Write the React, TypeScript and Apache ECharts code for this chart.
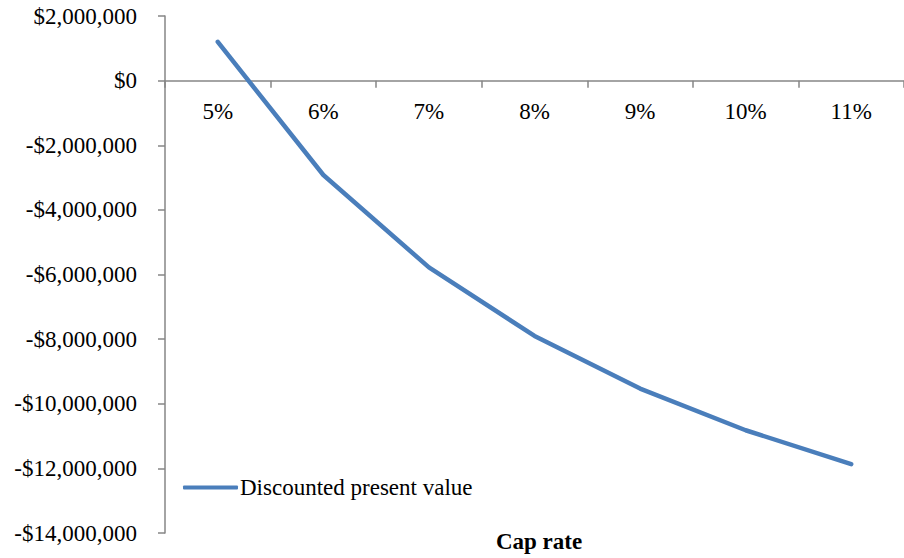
import React, { useEffect, useRef } from "react";
import * as echarts from "echarts";

const categories = ["5%", "6%", "7%", "8%", "9%", "10%", "11%"];
const discountedPV = [1200000, -2920000, -5780000, -7900000, -9530000, -10820000, -11870000];
const seriesName = "Discounted present value";
const xAxisTitle = "Cap rate";
const yMin = -14000000;
const yMax = 2000000;
const yStep = 2000000;

const FONT = "'Liberation Serif', 'Times New Roman', serif";

const W = 904;
const H = 558;
const GRID_TOP = 16;
const GRID_BOTTOM = 25;
const GRID_LEFT = 165;
const GRID_RIGHT = -10;

function fmt(v: number): string {
  const abs = Math.abs(v);
  const s = "$" + abs.toLocaleString("en-US");
  return v < 0 ? "-" + s : s;
}

export default function App() {
  const ref = useRef<HTMLDivElement>(null);
  useEffect(() => {
    if (!ref.current) return;
    const chart = echarts.init(ref.current, null, { renderer: "svg" });
    const gridH = H - GRID_TOP - GRID_BOTTOM;
    const zeroY = GRID_TOP + gridH * (yMax / (yMax - yMin));
    const bottomY = H - GRID_BOTTOM;
    chart.setOption({
      animation: false,
      backgroundColor: "#ffffff",
      textStyle: { fontFamily: FONT },
      grid: { left: GRID_LEFT, right: GRID_RIGHT, top: GRID_TOP, bottom: GRID_BOTTOM, containLabel: false },
      title: {
        text: xAxisTitle,
        left: 539,
        textAlign: "center",
        top: 530,
        padding: 0,
        textStyle: { fontFamily: FONT, fontSize: 23, fontWeight: "bold", color: "#000" },
      },
      legend: {
        left: 183,
        top: 476,
        itemWidth: 55,
        itemHeight: 4,
        itemGap: 0,
        padding: 0,
        textStyle: { fontFamily: FONT, fontSize: 23, color: "#000", padding: [0, 0, 0, -3] },
        data: [{ name: seriesName, icon: "roundRect" }],
      },
      xAxis: {
        type: "category",
        data: categories,
        boundaryGap: true,
        position: "bottom",
        offset: -(bottomY - zeroY),
        axisLine: { onZero: false, lineStyle: { color: "#868686", width: 1.5 } },
        axisTick: { show: true, inside: false, length: 7, lineStyle: { color: "#868686", width: 1.5 } },
        axisLabel: { fontFamily: FONT, fontSize: 23, fontWeight: "normal", color: "#000", margin: 19 },
        splitLine: { show: false },
      },
      yAxis: {
        type: "value",
        min: yMin,
        max: yMax,
        interval: yStep,
        axisLine: { show: true, lineStyle: { color: "#868686", width: 1.5 } },
        axisTick: { show: true, length: 7, lineStyle: { color: "#868686", width: 1.5 } },
        axisLabel: {
          fontFamily: FONT,
          fontSize: 23,
          fontWeight: "normal",
          color: "#000",
          margin: 28,
          formatter: (v: number) => fmt(v),
        },
        splitLine: { show: false },
      },
      series: [
        {
          name: seriesName,
          type: "line",
          data: discountedPV,
          symbol: "none",
          lineStyle: { color: "#4a7ebb", width: 4.5, cap: "round", join: "round" },
          itemStyle: { color: "#4a7ebb" },
        },
      ],
    });
    return () => chart.dispose();
  }, []);
  return (
    <div style={{ position: "fixed", left: 0, top: 0, width: W, height: H, overflow: "hidden", background: "#fff" }}>
      <div ref={ref} style={{ width: W, height: H }} />
    </div>
  );
}
